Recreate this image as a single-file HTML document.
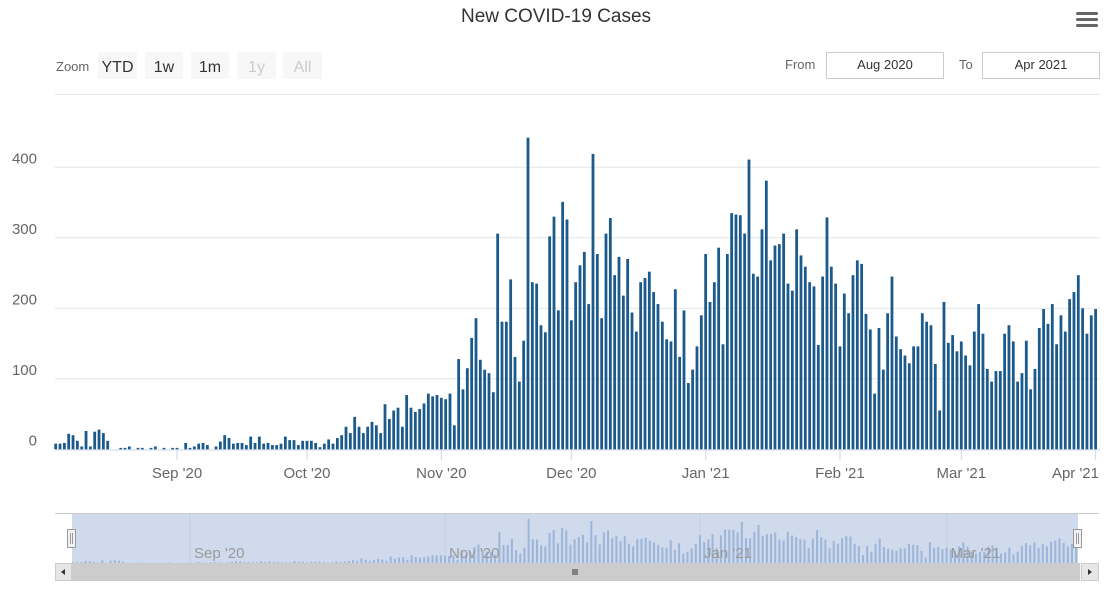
<!DOCTYPE html>
<html><head><meta charset="utf-8"><style>
html,body{margin:0;padding:0;background:#fff;width:1111px;height:591px;overflow:hidden;font-family:"Liberation Sans",sans-serif}
svg text{font-family:"Liberation Sans",sans-serif}
</style></head><body>
<svg id="chart" width="1111" height="591" viewBox="0 0 1111 591" xmlns="http://www.w3.org/2000/svg">
<text x="556" y="22" text-anchor="middle" font-size="19" fill="#333">New COVID-19 Cases</text>
<g><rect x="1076" y="12" width="22" height="3" rx="1.5" fill="#666"/><rect x="1076" y="18" width="22" height="3" rx="1.5" fill="#666"/><rect x="1076" y="24" width="22" height="3" rx="1.5" fill="#666"/></g>
<text x="56" y="71" font-size="13" fill="#666">Zoom</text>
<g><rect x="98" y="52" width="39" height="27" fill="#f7f7f7"/><text x="117.5" y="72" text-anchor="middle" font-size="16" fill="#333">YTD</text></g>
<g><rect x="145" y="52" width="38" height="27" fill="#f7f7f7"/><text x="164" y="72" text-anchor="middle" font-size="16" fill="#333">1w</text></g>
<g><rect x="191" y="52" width="38" height="27" fill="#f7f7f7"/><text x="210" y="72" text-anchor="middle" font-size="16" fill="#333">1m</text></g>
<g><rect x="237" y="52" width="39" height="27" fill="#f7f7f7"/><text x="256.5" y="72" text-anchor="middle" font-size="16" fill="#ccc">1y</text></g>
<g><rect x="283" y="52" width="39" height="27" fill="#f7f7f7"/><text x="302.5" y="72" text-anchor="middle" font-size="16" fill="#ccc">All</text></g>
<text x="785" y="69" font-size="13" fill="#666">From</text>
<g><rect x="826.5" y="52.5" width="117" height="26" fill="#fff" stroke="#ccc"/><text x="885" y="69" text-anchor="middle" font-size="13" fill="#333">Aug 2020</text></g>
<text x="959" y="69" font-size="13" fill="#666">To</text>
<g><rect x="982.5" y="52.5" width="117" height="26" fill="#fff" stroke="#ccc"/><text x="1041" y="69" text-anchor="middle" font-size="13" fill="#333">Apr 2021</text></g>
<line x1="55" y1="94.5" x2="1100" y2="94.5" stroke="#e6e6e6"/>
<g id="grid"></g><g id="bars"></g><g id="xaxis"></g><g id="nav"></g>
</svg>
<script>
const startDate = [2020, 7, 4];
const values = [8,8,9,22,20,12,4,26,4,25,28,23,12,0,0,2,2,4,0,2,2,0,2,4,0,2,0,2,2,0,9,2,4,8,9,6,0,4,11,20,16,8,9,9,6,18,9,18,8,9,6,6,8,18,13,13,6,12,12,12,9,
3,8,14,8,16,20,32,23,46,32,23,32,39,34,23,64,43,55,59,32,77,59,53,57,65,79,75,77,73,71,79,34,128,85,115,158,186,127,113,108,81,306,181,181,241,131,96,154,442,237,235,176,166,302,330,197,351,326,183,237,261,
280,206,419,277,186,306,328,247,273,218,270,194,167,237,243,252,223,206,181,156,153,227,131,197,94,113,146,190,277,209,237,286,149,277,335,333,332,306,411,249,245,312,381,268,289,291,306,235,225,312,275,259,237,231,148,245,329,259,235,146,
221,193,247,268,263,192,170,79,172,113,193,245,160,142,133,122,146,146,193,181,176,121,55,209,151,162,139,153,133,119,167,206,164,114,96,111,111,164,176,153,96,108,154,85,114,172,199,178,206,149,190,167,213,223,247,200,164,190,199];
const yTicks = [0,100,200,300,400];
const xTickLabels = ["Sep '20","Oct '20","Nov '20","Dec '20","Jan '21","Feb '21","Mar '21","Apr '21"];
const xTickIndex = [28,58,89,119,150,181,209,240];
const navTickLabels = ["Sep '20","Nov '20","Jan '21","Mar '21"];
const navTickIndex = [28,89,150,209];

const NS="http://www.w3.org/2000/svg";
function mk(tag,attrs,parent){const e=document.createElementNS(NS,tag);for(const k in attrs)e.setAttribute(k,attrs[k]);parent.appendChild(e);return e;}
const xs = i => 55.7 + i*4.333;
const ys = v => 449.3 - v*0.705;
const nx = i => 73 + i*4.18;
const ny = v => 563 - v*0.1;

const grid=document.getElementById('grid');
yTicks.forEach(t=>{
  if(t>0){const l=mk('line',{x1:55,x2:1100,y1:ys(t),y2:ys(t),stroke:'#e6e6e6'},grid);
  
  }
  const tx=mk('text',{x:37,y:ys(t)-4,'text-anchor':'end','font-size':15,fill:'#666'},grid);
  tx.textContent=t;
  
  
});
const bars=document.getElementById('bars');
values.forEach((v,i)=>{
  const r=mk('rect',{x:xs(i)-1.4,y:ys(v),width:2.8,height:Math.max(0,449.3-ys(v)),fill:'#1b5a8b'},bars);
  
  
});
const xa=document.getElementById('xaxis');
mk('line',{x1:55,x2:1100,y1:450,y2:450,stroke:'#ccd6eb'},xa);
xTickIndex.forEach((ix,k)=>{
  mk('line',{x1:xs(ix),x2:xs(ix),y1:450,y2:460,stroke:'#ccd6eb'},xa);
  const last = xs(ix)+27>1100;
  const t=mk('text',{x:last?1099:xs(ix),y:478,'text-anchor':last?'end':'middle','font-size':15,fill:'#666'},xa);
  t.textContent=xTickLabels[k];
  
  
});
const nav=document.getElementById('nav');
mk('line',{x1:55,x2:1099,y1:513.5,y2:513.5,stroke:'#ccc'},nav);
const mask=mk('rect',{x:72,y:514,width:1006,height:49,fill:'#d0daed'},nav);


navTickIndex.forEach((ix,k)=>{
  mk('line',{x1:nx(ix),x2:nx(ix),y1:514,y2:563,stroke:'#c5cedd'},nav);
});
values.forEach((v,i)=>{
  const r=mk('rect',{x:nx(i)-1,y:ny(v),width:2,height:563-ny(v),fill:'#9cb5d8'},nav);
  
  
});
navTickIndex.forEach((ix,k)=>{
  const t=mk('text',{x:nx(ix)+4,y:558,'font-size':15,fill:'#999'},nav);
  t.textContent=navTickLabels[k];
  
  
});
const sb=mk('rect',{x:55,y:563,width:1044,height:18,fill:'#f2f2f2'},nav);


const th=mk('rect',{x:72,y:563,width:1008,height:18,fill:'#cccccc'},nav);


const bl=mk('rect',{x:55.5,y:563.5,width:16,height:17,fill:'#e6e6e6',stroke:'#ccc'},nav);


mk('path',{d:'M65 569 L61 572 L65 575 Z',fill:'#333'},nav);
const br=mk('rect',{x:1081.5,y:563.5,width:17,height:17,fill:'#e6e6e6',stroke:'#ccc'},nav);


mk('path',{d:'M1088 569 L1092 572 L1088 575 Z',fill:'#333'},nav);
mk('path',{d:'M573 569 V575 M575 569 V575 M577 569 V575',stroke:'#333','stroke-width':1},nav);
[72,1078].forEach((hx,k)=>{
  const h=mk('rect',{x:hx-4.5,y:529.5,width:8,height:18,fill:'#f2f2f2',stroke:'#999'},nav);
  
  
  mk('path',{d:`M${hx-1.5} 533 V544 M${hx+0.5} 533 V544`,stroke:'#999'},nav);
});
</script>
</body></html>
